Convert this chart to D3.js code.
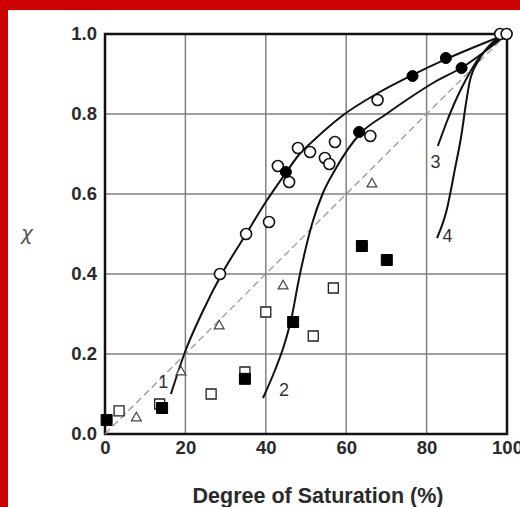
<!DOCTYPE html>
<html>
<head>
<meta charset="utf-8">
<script src="https://cdn.jsdelivr.net/npm/d3@7"></script>
<style>
  body { margin: 0; background: #fff; }
  text { font-family: "Liberation Sans", Arial, sans-serif; }
</style>
</head>
<body>
<div id="chart"></div>
<script>
// data: [degree of saturation %, chi]
let openCircles = [[28.6, 0.40], [35.1, 0.50], [40.8, 0.53], [43.0, 0.67], [45.8, 0.63],
  [48.0, 0.715], [51.0, 0.705], [54.7, 0.69], [55.8, 0.675], [57.2, 0.73],
  [66.0, 0.745], [67.8, 0.835], [98.3, 1.0], [99.9, 1.0]];
let filledCircles = [[45.0, 0.655], [63.2, 0.755], [76.5, 0.895], [84.8, 0.94], [88.7, 0.915]];
let openTriangles = [[7.8, 0.04], [18.9, 0.155], [28.4, 0.27], [44.3, 0.37], [66.4, 0.625]];
let openSquares = [[3.5, 0.058], [13.6, 0.075], [26.4, 0.10], [34.8, 0.155], [40.0, 0.305],
  [51.8, 0.245], [56.8, 0.365]];
let filledSquares = [[0.4, 0.035], [14.2, 0.065], [34.8, 0.138], [46.8, 0.28], [63.9, 0.47], [70.1, 0.435]];

// fitted curves
let curve1 = [[16.4, 0.10], [19.9, 0.205], [24, 0.3], [28.9, 0.3975], [35.1, 0.5], [40, 0.58],
  [44.8, 0.65], [48, 0.695], [52, 0.735], [59.2, 0.797], [67.5, 0.85], [76.4, 0.897],
  [84.8, 0.937], [100, 1.0]];
let curve2 = [[39.3, 0.09], [42.3, 0.16], [44.8, 0.23], [46.6, 0.30], [48.1, 0.38], [49.6, 0.45],
  [51.5, 0.525], [54.1, 0.60], [57.2, 0.66], [63.4, 0.75], [70, 0.80], [75, 0.835], [82, 0.88],
  [88.6, 0.915], [100, 1.0]];
let curve3 = [[82.8, 0.72], [85, 0.78], [87.5, 0.84], [90, 0.89], [93, 0.94], [97, 0.98], [100, 1.0]];
let curve4 = [[82.6, 0.49], [85, 0.56], [87, 0.66], [88.7, 0.75], [89.7, 0.82], [90.7, 0.88],
  [93, 0.935], [96, 0.975], [100, 1.0]];
let curveLabels = [["1", 14.5, 0.115], ["2", 44.5, 0.095], ["3", 82.2, 0.665], ["4", 85.2, 0.48]];

let xTicks = [0, 20, 40, 60, 80, 100];
let yTicks = [0.0, 0.2, 0.4, 0.6, 0.8, 1.0];

let svgWidth = 520;
let svgHeight = 507;

let svg = d3.select("#chart")
  .append("svg")
  .attr("width", svgWidth)
  .attr("height", svgHeight);

// red frame
svg.append("rect").attr("width", svgWidth).attr("height", svgHeight).attr("fill", "#cc0000");
svg.append("rect").attr("x", 8).attr("y", 10).attr("width", svgWidth).attr("height", svgHeight)
  .attr("fill", "#fff");

let x = d3.scaleLinear().domain([0, 100]).range([105, 507]);
let y = d3.scaleLinear().domain([0, 1]).range([434, 34]);

// grid
svg.append("g").selectAll("line").data(xTicks.slice(1, -1)).join("line")
  .attr("x1", d => x(d)).attr("x2", d => x(d))
  .attr("y1", y(0)).attr("y2", y(1))
  .attr("stroke", "#808080").attr("stroke-width", 1.5);
svg.append("g").selectAll("line").data(yTicks.slice(1, -1)).join("line")
  .attr("x1", x(0)).attr("x2", x(100))
  .attr("y1", d => y(d)).attr("y2", d => y(d))
  .attr("stroke", "#808080").attr("stroke-width", 1.5);

// axes with tick labels
let bottomAxis = d3.axisBottom(x).tickValues(xTicks).tickSize(0).tickPadding(7)
  .tickFormat(d3.format("d"));
let leftAxis = d3.axisLeft(y).tickValues(yTicks).tickSize(0).tickPadding(8)
  .tickFormat(d3.format(".1f"));

let gx = svg.append("g").attr("transform", `translate(0, ${y(0)})`).call(bottomAxis);
let gy = svg.append("g").attr("transform", `translate(${x(0)}, 0)`).call(leftAxis);
[gx, gy].forEach(g => {
  g.select(".domain").remove();
  g.selectAll("text")
    .style("font-family", "'Liberation Sans', Arial, sans-serif")
    .style("font-size", "18.5px")
    .style("font-weight", "bold")
    .attr("fill", "#2a2a2a");
});

// frame of the plot
svg.append("rect")
  .attr("x", x(0)).attr("y", y(1))
  .attr("width", x(100) - x(0)).attr("height", y(0) - y(1))
  .attr("fill", "none").attr("stroke", "#111").attr("stroke-width", 2.5);

// 1:1 dashed line
svg.append("line")
  .attr("x1", x(0)).attr("y1", y(0)).attr("x2", x(100)).attr("y2", y(1))
  .attr("stroke", "#999").attr("stroke-width", 1.3).attr("stroke-dasharray", "7,4");

// curves
let line = d3.line().x(d => x(d[0])).y(d => y(d[1])).curve(d3.curveMonotoneX);
[curve1, curve2, curve3, curve4].forEach(c => {
  svg.append("path").datum(c).attr("d", line)
    .attr("fill", "none").attr("stroke", "#111").attr("stroke-width", 2);
});

svg.append("g").selectAll("text").data(curveLabels).join("text")
  .attr("x", d => x(d[1])).attr("y", d => y(d[2]))
  .attr("text-anchor", "middle")
  .style("font-size", "18px").attr("fill", "#333")
  .text(d => d[0]);

// markers
let sym = (type, size) => d3.symbol().type(type).size(size)();

function markers(data, type, size, fill, stroke, sw) {
  svg.append("g").selectAll("path").data(data).join("path")
    .attr("transform", d => `translate(${x(d[0])}, ${y(d[1])})`)
    .attr("d", sym(type, size))
    .attr("fill", fill).attr("stroke", stroke).attr("stroke-width", sw);
}

markers(openTriangles, d3.symbolTriangle, 42, "#fff", "#444", 1.2);
markers(openSquares, d3.symbolSquare, 100, "#fff", "#222", 1.3);
markers(filledSquares, d3.symbolSquare, 121, "#000", "#000", 1);
markers(openCircles, d3.symbolCircle, 95, "#fff", "#111", 1.6);
markers(filledCircles, d3.symbolCircle, 95, "#000", "#000", 1);

// axis titles
svg.append("text")
  .attr("x", 318).attr("y", 503)
  .attr("text-anchor", "middle")
  .style("font-size", "21.5px").style("font-weight", "bold")
  .attr("fill", "#2a2a2a")
  .text("Degree of Saturation (%)");

svg.append("text")
  .attr("x", 27).attr("y", 240)
  .attr("text-anchor", "middle")
  .style("font-size", "20px").style("font-style", "italic")
  .style("font-family", "'DejaVu Sans', sans-serif")
  .attr("fill", "#555")
  .text("χ");
</script>
</body>
</html>
